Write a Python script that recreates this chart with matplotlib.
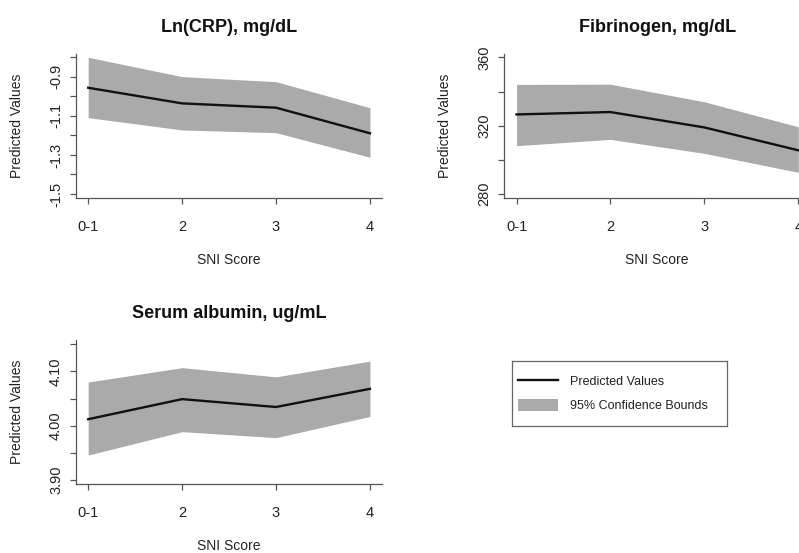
import numpy as np
import matplotlib
matplotlib.use("Agg")
import matplotlib.pyplot as plt
from matplotlib.lines import Line2D
from matplotlib.patches import Patch

plt.rcParams['font.family'] = ['Liberation Sans', 'DejaVu Sans']

# SNI score categories
sni_labels = ['0-1', '2', '3', '4']
x_pos = np.arange(1, 5)

# Ln(CRP), mg/dL
crp_pred = [-0.956, -1.036, -1.058, -1.189]
crp_upper = [-0.800, -0.899, -0.925, -1.058]
crp_lower = [-1.109, -1.172, -1.186, -1.312]

# Fibrinogen, mg/dL
fib_pred = [326.6, 328.0, 319.0, 305.6]
fib_upper = [344.2, 344.3, 334.0, 319.4]
fib_lower = [308.3, 312.0, 303.8, 292.7]

# Serum albumin, ug/mL
alb_pred = [4.012, 4.049, 4.0345, 4.068]
alb_upper = [4.0805, 4.107, 4.090, 4.119]
alb_lower = [3.946, 3.989, 3.978, 4.017]

fill_col = '#aaaaaa'
spine_col = '#555555'
text_col = '#222222'


def panel(ax, title, pred, lower, upper, yticks, ylabels, ylim):
    ax.fill_between(x_pos, lower, upper, color=fill_col, linewidth=0)
    ax.plot(x_pos, pred, color='#111111', linewidth=1.7)
    ax.set_xlim(0.87, 4.125)
    ax.set_ylim(*ylim)
    ax.set_xticks(x_pos)
    ax.set_xticklabels(sni_labels)
    ax.set_yticks(yticks)
    ax.set_yticklabels(ylabels, rotation=90, va='center')
    for s in ['top', 'right']:
        ax.spines[s].set_visible(False)
    for s in ['left', 'bottom']:
        ax.spines[s].set_color(spine_col)
        ax.spines[s].set_linewidth(0.9)
    ax.tick_params(axis='both', length=4.3, width=0.9, color=spine_col,
                   labelsize=10.5, labelcolor=text_col)
    ax.tick_params(axis='x', pad=11)
    ax.tick_params(axis='y', pad=5)
    ax.set_title(title, fontsize=13, fontweight='bold', pad=16, color='#111111')
    ax.set_xlabel('SNI Score', fontsize=10, color=text_col)
    ax.set_ylabel('Predicted Values', fontsize=10, color=text_col)
    ax.xaxis.set_label_coords(0.5, -0.38)
    ax.yaxis.set_label_coords(-0.17, 0.5)


fig = plt.figure(figsize=(7.99, 5.53), dpi=100)

ax1 = fig.add_axes([0.0951, 0.6414, 0.3826, 0.261])
ax2 = fig.add_axes([0.6312, 0.6414, 0.3826, 0.261])
ax3 = fig.add_axes([0.0951, 0.1242, 0.3826, 0.261])

crp_ticks = [-1.5, -1.4, -1.3, -1.2, -1.1, -1.0, -0.9, -0.8]
crp_tl = ['-1.5', '', '-1.3', '', '-1.1', '', '-0.9', '']
panel(ax1, 'Ln(CRP), mg/dL', crp_pred, crp_lower, crp_upper,
      crp_ticks, crp_tl, (-1.522, -0.783))

fib_ticks = [280, 300, 320, 340, 360]
fib_tl = ['280', '', '320', '', '360']
panel(ax2, 'Fibrinogen, mg/dL', fib_pred, fib_lower, fib_upper,
      fib_ticks, fib_tl, (277.5, 362.0))

alb_ticks = [3.90, 3.95, 4.00, 4.05, 4.10, 4.15]
alb_tl = ['3.90', '', '4.00', '', '4.10', '']
panel(ax3, 'Serum albumin, ug/mL', alb_pred, alb_lower, alb_upper,
      alb_ticks, alb_tl, (3.892, 4.158))

# legend box
lax = fig.add_axes([0.6404, 0.2302, 0.2691, 0.117])
lax.set_xticks([])
lax.set_yticks([])
for s in lax.spines.values():
    s.set_color('#666666')
    s.set_linewidth(0.9)
handles = [Line2D([0], [0], color='#111111', linewidth=1.7),
           Patch(facecolor=fill_col, edgecolor='none')]
lax.legend(handles, ['Predicted Values', '95% Confidence Bounds'],
           loc='center left', frameon=False, fontsize=9, labelcolor=text_col,
           handlelength=3.2, handleheight=1.1, handletextpad=1.0,
           labelspacing=0.9, borderaxespad=0.1)

fig.savefig('out.png', dpi=100)
